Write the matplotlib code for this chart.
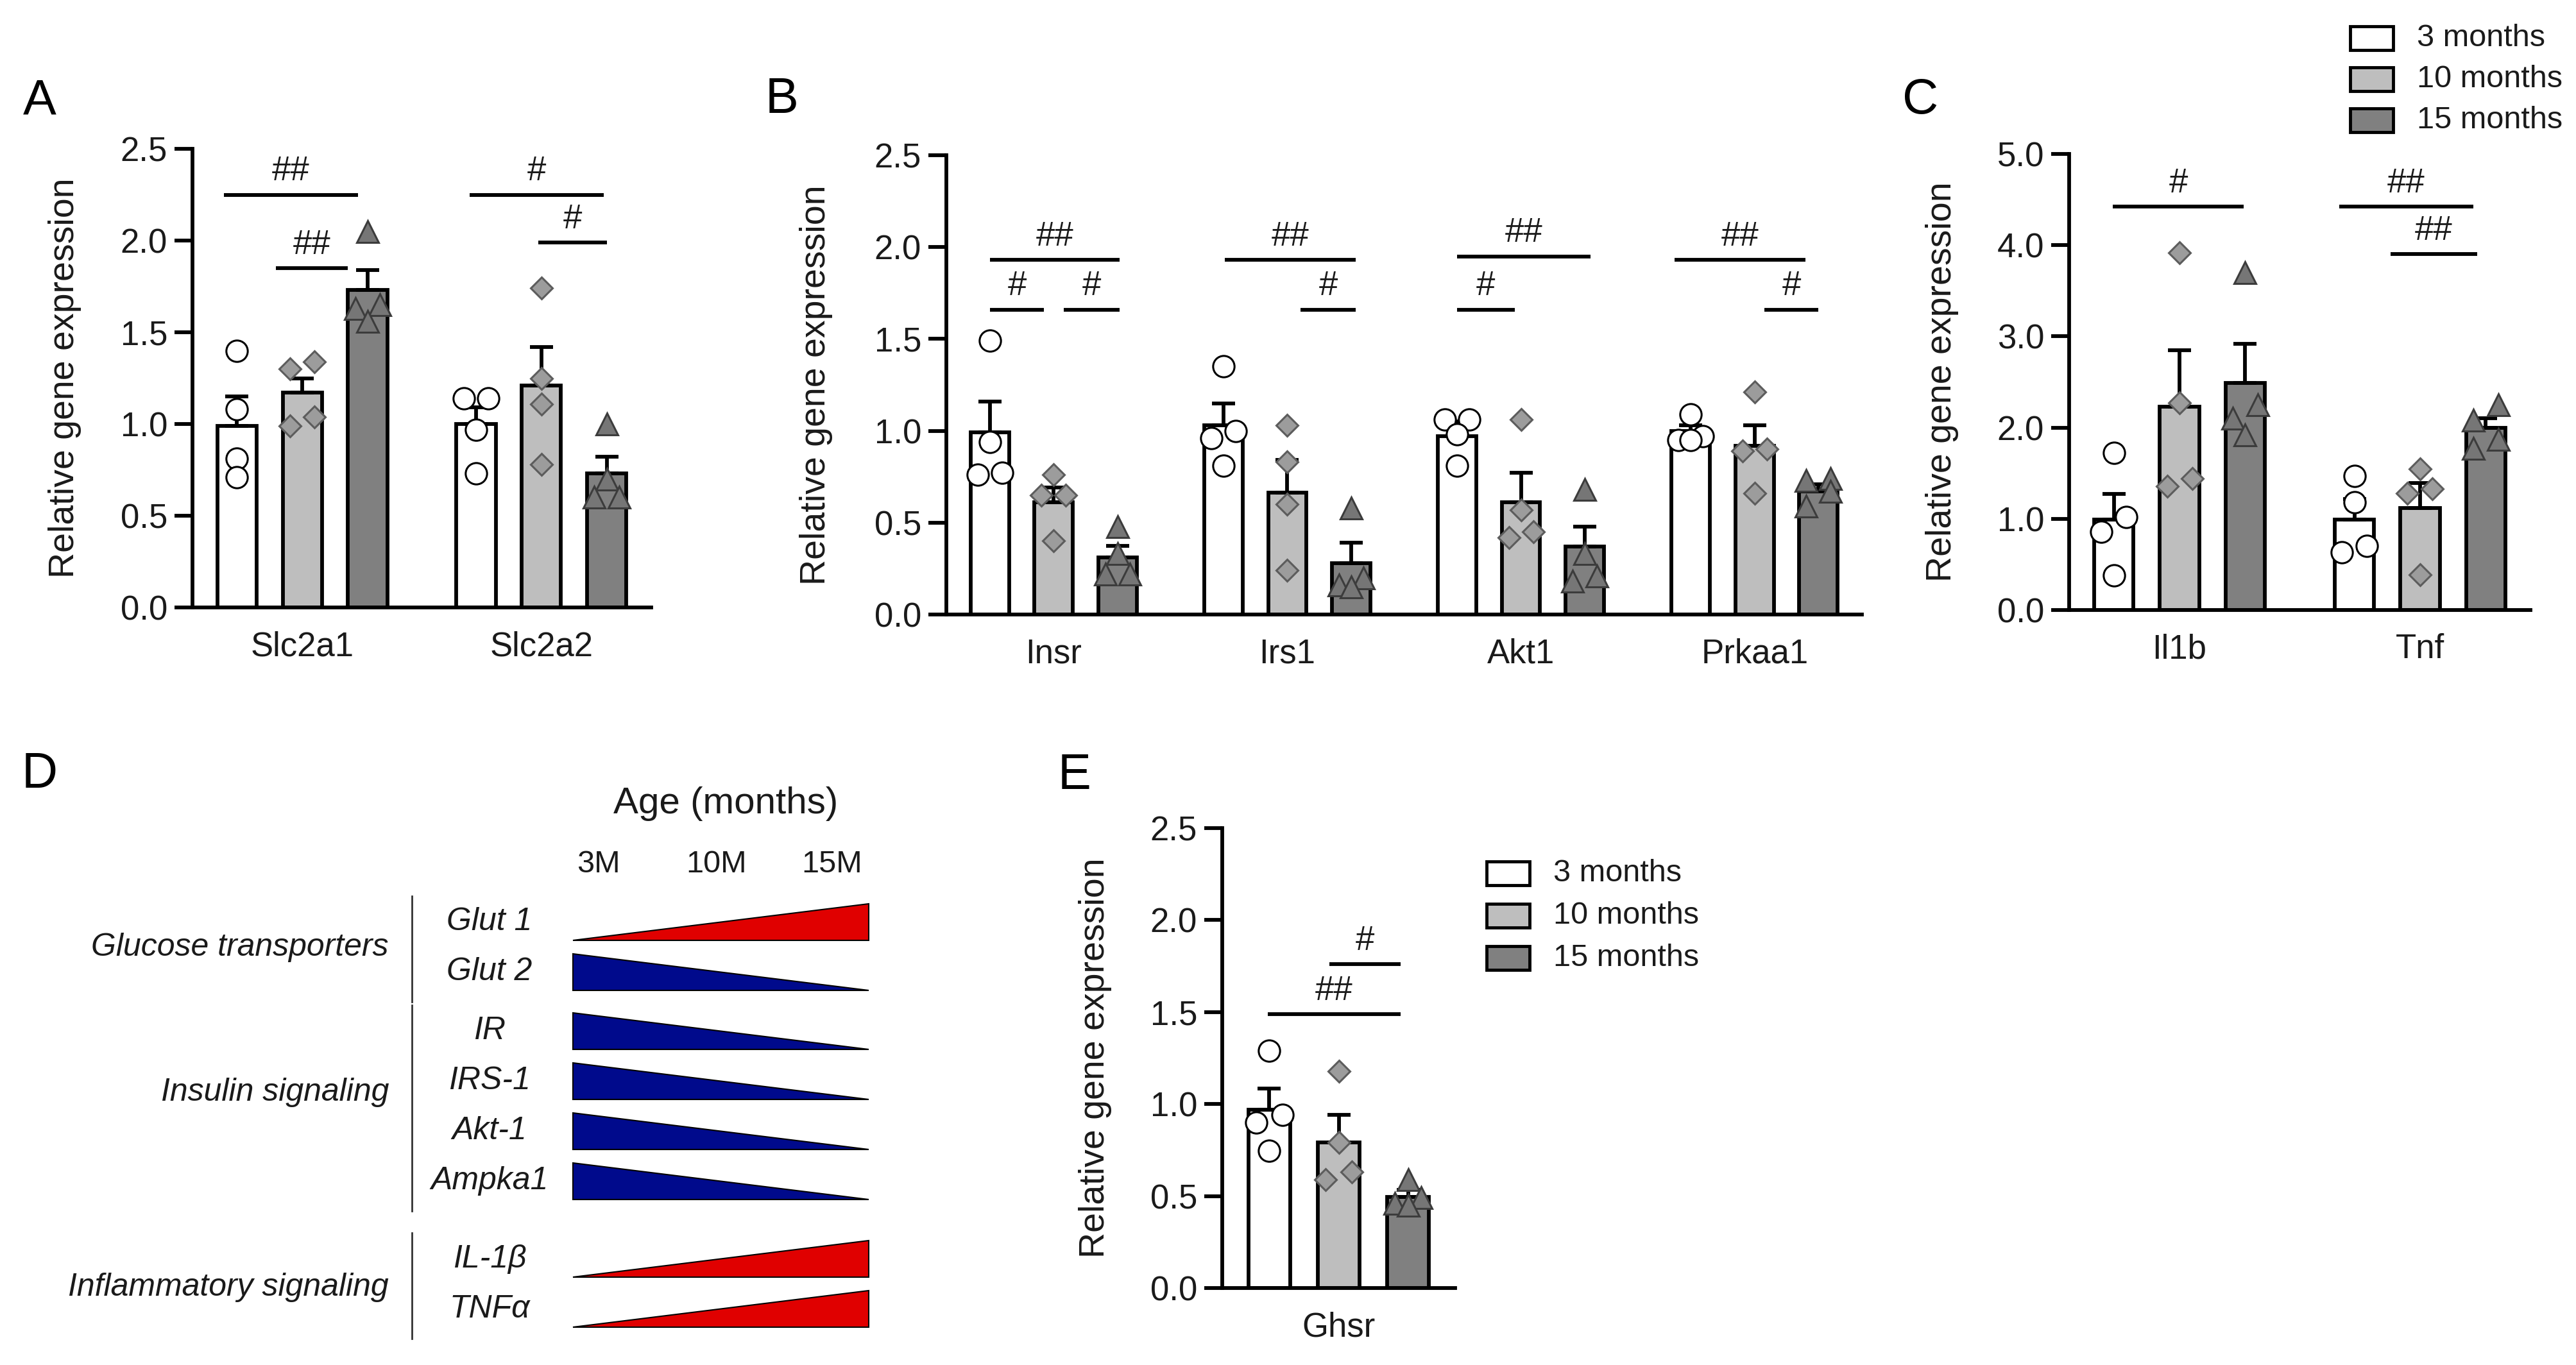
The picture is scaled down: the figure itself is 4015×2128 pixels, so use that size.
import matplotlib
matplotlib.use('Agg')
import matplotlib.pyplot as plt
from matplotlib.patches import Polygon, Rectangle
import numpy as np

plt.rcParams['font.family'] = ['Liberation Sans', 'DejaVu Sans']

W, H = 4015, 2128

# ---- data ----
age_groups = ['3 months', '10 months', '15 months']

genes_a = ['Slc2a1', 'Slc2a2']
mean_a = [[0.99, 1.17, 1.73], [1.00, 1.21, 0.73]]
sem_a = [[0.16, 0.08, 0.11], [0.09, 0.21, 0.09]]
points_a = [
    [[1.40, 1.08, 0.81, 0.71], [1.30, 1.34, 0.99, 1.04], [2.05, 1.65, 1.63, 1.56]],
    [[1.14, 1.14, 0.97, 0.73], [1.74, 1.25, 1.11, 0.78], [1.00, 0.70, 0.60, 0.60]],
]
sig_a = [(0, -0.2, 1.85, 2.25, '##'), (0, 0.6, 1.7, 1.85, '##'),
         (1, -0.1, 1.95, 2.25, '#'), (1, 0.95, 2.0, 1.99, '#')]

genes_b = ['Insr', 'Irs1', 'Akt1', 'Prkaa1']
mean_b = [[0.99, 0.61, 0.31], [1.03, 0.665, 0.28], [0.97, 0.61, 0.37], [1.00, 0.92, 0.67]]
sem_b = [[0.17, 0.08, 0.065], [0.12, 0.175, 0.11], [0.08, 0.16, 0.11], [0.03, 0.11, 0.04]]
points_b = [
    [[1.49, 0.94, 0.77, 0.76], [0.76, 0.65, 0.65, 0.40], [0.48, 0.33, 0.22, 0.22]],
    [[1.35, 1.00, 0.96, 0.81], [1.03, 0.83, 0.60, 0.24], [0.58, 0.20, 0.16, 0.15]],
    [[1.06, 1.06, 0.98, 0.81], [1.06, 0.57, 0.45, 0.42], [0.68, 0.33, 0.21, 0.18]],
    [[1.09, 0.97, 0.95, 0.95], [1.21, 0.90, 0.89, 0.66], [0.74, 0.73, 0.67, 0.59]],
]
sig_b = [(0, 0.0, 2.03, 1.93, '##'), (0, 0.0, 0.85, 1.66, '#'), (0, 1.16, 2.03, 1.66, '#'),
         (1, 0.02, 2.07, 1.93, '##'), (1, 1.21, 2.07, 1.66, '#'),
         (2, 0.0, 2.09, 1.95, '##'), (2, 0.0, 0.9, 1.66, '#'),
         (3, -0.25, 1.8, 1.93, '##'), (3, 1.15, 2.0, 1.66, '#')]

genes_c = ['Il1b', 'Tnf']
mean_c = [[0.995, 2.23, 2.49], [0.995, 1.12, 2.00]]
sem_c = [[0.275, 0.62, 0.43], [0.225, 0.27, 0.10]]
points_c = [
    [[1.72, 1.02, 0.86, 0.38], [3.92, 2.27, 1.44, 1.36], [3.70, 2.25, 2.10, 1.92]],
    [[1.47, 1.18, 0.70, 0.63], [1.55, 1.33, 1.28, 0.39], [2.25, 2.08, 1.87, 1.77]],
]
sig_c = [(0, -0.02, 1.98, 4.42, '#'), (1, -0.23, 1.81, 4.42, '##'), (1, 0.55, 1.87, 3.90, '##')]

genes_e = ['Ghsr']
mean_e = [[0.97, 0.79, 0.495]]
sem_e = [[0.115, 0.15, 0.04]]
points_e = [[[1.29, 0.94, 0.90, 0.745], [1.18, 0.79, 0.63, 0.59], [0.59, 0.49, 0.46, 0.45]]]
sig_e = [(0, -0.02, 1.89, 1.49, '##'), (0, 0.87, 1.89, 1.76, '#')]

# panel D summary
d_groups = ['Glucose transporters', 'Insulin signaling', 'Inflammatory signaling']
d_genes = [['Glut 1', 'Glut 2'], ['IR', 'IRS-1', 'Akt-1', 'Ampka1'], ['IL-1β', 'TNFα']]
d_trend = [[1, -1], [-1, -1, -1, -1], [1, 1]]
d_ages = ['3M', '10M', '15M']

# ---- style ----
bar_colors = ['#ffffff', '#bebebe', '#808080']
mk_style = ['o', 'D', '^']
mk_size = [24, 17, 24]
mk_face = ['#ffffff', '#9c9c9c', '#767676']
mk_edge = ['#000000', '#5c5c5c', '#3c3c3c']
LW = 4.2
GROUP_GAP = 3.66
FS = 38
TXT = '#1a1a1a'

fig = plt.figure(figsize=(W / 100, H / 100), dpi=100)


def box(left, top, right, bottom):
    return [left / W, 1 - bottom / H, (right - left) / W, (bottom - top) / H]


def swarm(vals, px_per_unit, h=0.19, thr=25):
    # simple beeswarm: neighbours closer than thr pixels get spread sideways
    order = sorted(range(len(vals)), key=lambda i: -vals[i])
    offs = [0.0] * len(vals)
    clusters, cur = [], [order[0]]
    for i in order[1:]:
        if (vals[cur[-1]] - vals[i]) * px_per_unit < thr:
            cur.append(i)
        else:
            clusters.append(cur)
            cur = [i]
    clusters.append(cur)
    for c in clusters:
        n = len(c)
        if n == 1:
            pat = [0]
        elif n == 3:
            pat = [h, -h, 0]
        else:
            pat = [h if j % 2 == 0 else -h for j in range(n)]
        for j, i in enumerate(c):
            offs[i] = pat[j]
    return offs


def bar_panel(rect, genes, means, sems, points, ymax, ystep, sigs, ylab_x):
    ax = fig.add_axes(box(*rect))
    px_unit = (rect[3] - rect[1]) / ymax
    for g in range(len(genes)):
        for k in range(3):
            x = g * GROUP_GAP + k
            ax.bar(x, means[g][k], width=0.6, color=bar_colors[k], edgecolor='black',
                   linewidth=LW, zorder=2)
            ax.errorbar(x, means[g][k], yerr=[[0], [sems[g][k]]], fmt='none', ecolor='black',
                        elinewidth=LW, capsize=13, capthick=LW, zorder=3)
            offs = swarm(points[g][k], px_unit)
            ax.plot(x + np.array(offs), points[g][k], linestyle='none', marker=mk_style[k],
                    markersize=mk_size[k], markerfacecolor=mk_face[k],
                    markeredgecolor=mk_edge[k], markeredgewidth=2.2, zorder=4, clip_on=False)
    for g, x0, x1, y, lab in sigs:
        xa, xb = g * GROUP_GAP + x0, g * GROUP_GAP + x1
        ax.plot([xa, xb], [y, y], color='black', lw=LW, solid_capstyle='butt', clip_on=False)
        ax.annotate(lab, ((xa + xb) / 2, y), xytext=(0, 8), textcoords='offset points',
                    ha='center', va='bottom', fontsize=38, color=TXT)
    last = (len(genes) - 1) * GROUP_GAP + 2
    ax.set_xlim(-0.68, last + 0.68)
    ax.set_ylim(0, ymax)
    ax.set_yticks(np.arange(0, ymax + 1e-9, ystep))
    ax.set_yticklabels(['%.1f' % v for v in np.arange(0, ymax + 1e-9, ystep)])
    ax.set_xticks([g * GROUP_GAP + 1 for g in range(len(genes))])
    ax.set_xticklabels(genes)
    for s in ['top', 'right']:
        ax.spines[s].set_visible(False)
    for s in ['left', 'bottom']:
        ax.spines[s].set_linewidth(LW)
    ax.tick_params(axis='y', direction='out', length=20, width=LW, labelsize=FS, pad=8,
                   labelcolor=TXT)
    ax.tick_params(axis='x', length=0, labelsize=FS, pad=26, labelcolor=TXT)
    ax.set_ylabel('Relative gene expression', fontsize=40, va='center', color=TXT)
    ax.yaxis.set_label_coords(ylab_x, 0.5)
    return ax


bar_panel((300, 232, 1015, 947), genes_a, mean_a, sem_a, points_a, 2.5, 0.5, sig_a, -0.278)
bar_panel((1475, 242, 2902, 958), genes_b, mean_b, sem_b, points_b, 2.5, 0.5, sig_b, -0.142)
bar_panel((3225, 240, 3944, 951), genes_c, mean_c, sem_c, points_c, 5.0, 1.0, sig_c, -0.275)
bar_panel((1905, 1291, 2268, 2008), genes_e, mean_e, sem_e, points_e, 2.5, 0.5, sig_e, -0.545)


def legend_at(x, y0, pitch):
    for i, lab in enumerate(age_groups):
        y = y0 + i * pitch
        fig.add_artist(Rectangle((x / W, 1 - (y + 18) / H), 67 / W, 37 / H,
                                 transform=fig.transFigure, facecolor=bar_colors[i],
                                 edgecolor='black', linewidth=3.5))
        fig.text((x + 104) / W, 1 - y / H, lab, fontsize=35, va='center', ha='left', color=TXT)


legend_at(3663, 60, 64)
legend_at(2317, 1362, 66)

# panel letters
for lab, x, y in [('A', 36, 158), ('B', 1193, 156), ('C', 2965, 156), ('D', 34, 1207), ('E', 1649, 1209)]:
    fig.text(x / W, 1 - y / H, lab, fontsize=56, ha='left', va='center')

# ---- panel D schematic (figure pixel coords) ----
axd = fig.add_axes([0, 0, 1, 1], zorder=-1)
axd.set_xlim(0, W)
axd.set_ylim(H, 0)
axd.axis('off')

tri_x0, tri_x1, tri_h = 893, 1354, 57
axd.text(1131, 1253, 'Age (months)', fontsize=42, ha='center', va='center', color=TXT)
for lab, x in zip(d_ages, [933, 1117, 1297]):
    axd.text(x, 1347, lab, fontsize=35, ha='center', va='center', color=TXT)

extra = [0, 14, 57]
label_dy = [0, -22, 6]
r = 0
for g, genes in enumerate(d_genes):
    tops = []
    for i, gene in enumerate(genes):
        top = 1409 + r * 78 + extra[g]
        base = top + tri_h
        tops.append(top)
        if d_trend[g][i] > 0:
            verts = [(tri_x0, base), (tri_x1, base), (tri_x1, top)]
            col = '#e00000'
        else:
            verts = [(tri_x0, top), (tri_x0, base), (tri_x1, base)]
            col = '#000a8c'
        axd.add_patch(Polygon(verts, closed=True, facecolor=col, edgecolor='black', linewidth=1.5))
        axd.text(763, top + tri_h / 2, gene, fontsize=36, style='italic', ha='center',
                 va='center', color=TXT)
        r += 1
    y_top, y_bot = tops[0], tops[-1] + tri_h
    axd.plot([642, 642], [y_top - 12, y_bot + 18], color='#333333', lw=2)
    axd.text(606, (y_top + y_bot) / 2 + label_dy[g], d_groups[g], fontsize=36, style='italic',
             ha='right', va='center', color=TXT)

fig.savefig('out.png', dpi=100)
